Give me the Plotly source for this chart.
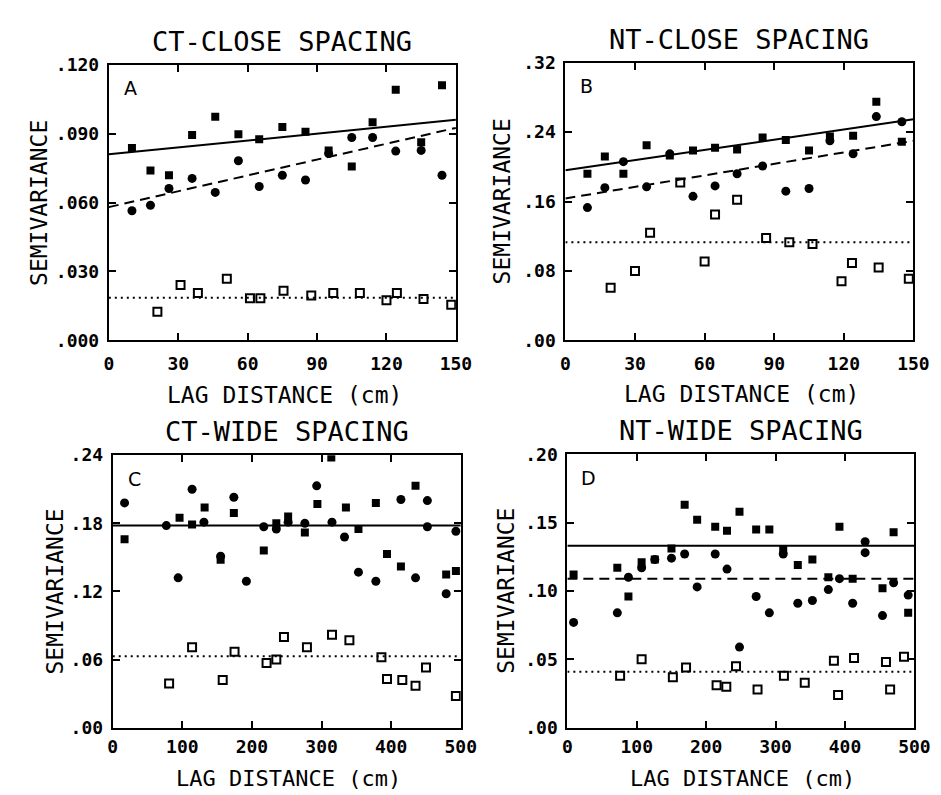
import plotly.graph_objects as go

W, H = 941, 795

# ---------------- data ----------------
titles = ["CT-CLOSE SPACING", "NT-CLOSE SPACING", "CT-WIDE SPACING", "NT-WIDE SPACING"]
letters = ["A", "B", "C", "D"]
x_title = "LAG DISTANCE (cm)"
y_title = "SEMIVARIANCE"

close_xticks = [0, 30, 60, 90, 120, 150]
wide_xticks = [0, 100, 200, 300, 400, 500]
A_yticks = [0.0, 0.03, 0.06, 0.09, 0.12]
A_yticklabels = [".000", ".030", ".060", ".090", ".120"]
B_yticks = [0.0, 0.08, 0.16, 0.24, 0.32]
B_yticklabels = [".00", ".08", ".16", ".24", ".32"]
C_yticks = [0.0, 0.06, 0.12, 0.18, 0.24]
C_yticklabels = [".00", ".06", ".12", ".18", ".24"]
D_yticks = [0.0, 0.05, 0.10, 0.15, 0.20]
D_yticklabels = [".00", ".05", ".10", ".15", ".20"]

# Panel A
A_sq_x = [10, 18, 26, 36, 46, 56, 65, 75, 85, 95, 105, 114, 124, 135, 144]
A_sq_y = [0.0838, 0.074, 0.0719, 0.0894, 0.0974, 0.0897, 0.0876, 0.0929, 0.0908,
          0.0827, 0.0757, 0.095, 0.1091, 0.0862, 0.1111]
A_ci_x = [10, 18, 26, 36, 46, 56, 65, 75, 85, 95, 105, 114, 124, 135, 144]
A_ci_y = [0.0564, 0.0588, 0.0661, 0.0705, 0.0644, 0.0782, 0.067, 0.0719, 0.0698,
          0.0813, 0.0883, 0.0883, 0.0824, 0.0827, 0.0719]
A_op_x = [21, 31, 38.5, 51, 61, 65.5, 75.5, 87.5, 97, 108.5, 120, 124.5, 136, 148]
A_op_y = [0.0124, 0.0241, 0.0206, 0.0268, 0.0183, 0.0183, 0.0216, 0.0195, 0.0206,
          0.0206, 0.0174, 0.0206, 0.018, 0.0155]
A_fit_x = [0, 150]
A_solid = [0.081, 0.096]
A_dash = [0.058, 0.0925]
A_dot = [0.0185, 0.0185]

# Panel B
B_sq_x = [9.5, 17, 25, 35, 45, 55, 64.5, 74, 85, 95, 105, 114, 124, 134, 145]
B_sq_y = [0.192, 0.212, 0.192, 0.225, 0.213, 0.219, 0.222, 0.220, 0.234, 0.231,
          0.219, 0.235, 0.236, 0.275, 0.229]
B_ci_x = [9.5, 17, 25, 35, 45, 55, 64.5, 74, 85, 95, 105, 114, 124, 134, 145]
B_ci_y = [0.153, 0.176, 0.206, 0.177, 0.215, 0.166, 0.178, 0.192, 0.201, 0.172,
          0.175, 0.230, 0.215, 0.258, 0.252]
B_op_x = [19.5, 30, 36.5, 49.5, 60, 64.5, 74, 86.5, 96.5, 106.5, 119, 123.5, 135, 148]
B_op_y = [0.0605, 0.080, 0.124, 0.182, 0.091, 0.145, 0.162, 0.118, 0.113, 0.111,
          0.068, 0.089, 0.084, 0.071]
B_fit_x = [0, 150]
B_solid = [0.196, 0.255]
B_dash = [0.1636, 0.230]
B_dot = [0.113, 0.113]

# Panel C
C_sq_x = [17, 96, 114, 132, 155, 174, 217, 235, 252, 276, 294, 314, 335, 353, 378,
          394, 414, 435, 479, 493]
C_sq_y = [0.166, 0.185, 0.179, 0.194, 0.148, 0.189, 0.156, 0.180, 0.186, 0.172,
          0.197, 0.238, 0.194, 0.175, 0.198, 0.153, 0.142, 0.213, 0.135, 0.138]
C_ci_x = [17, 77, 94, 114, 131, 155, 174, 192, 217, 235, 252, 276, 293, 315, 333,
          353, 378, 414, 435, 452, 452, 479, 493]
C_ci_y = [0.198, 0.178, 0.132, 0.210, 0.181, 0.151, 0.203, 0.129, 0.177, 0.175,
          0.181, 0.180, 0.213, 0.181, 0.168, 0.137, 0.129, 0.201, 0.132, 0.200,
          0.177, 0.118, 0.173]
C_op_x = [81, 114, 158, 175, 221, 235, 246, 279, 315, 340, 386, 394, 416, 435, 450, 493]
C_op_y = [0.039, 0.071, 0.042, 0.067, 0.057, 0.060, 0.080, 0.071, 0.082, 0.077,
          0.062, 0.043, 0.042, 0.037, 0.053, 0.028]
C_fit_x = [0, 500]
C_solid = [0.178, 0.178]
C_dot = [0.063, 0.063]

# Panel D
D_sq_x = [9, 72, 88, 107, 126, 150, 169, 187, 213, 230, 248, 272, 291, 311, 332,
          353, 376, 392, 411, 454, 470, 491]
D_sq_y = [0.112, 0.117, 0.096, 0.121, 0.123, 0.131, 0.163, 0.152, 0.147, 0.144,
          0.158, 0.145, 0.145, 0.130, 0.119, 0.123, 0.110, 0.147, 0.109, 0.102,
          0.143, 0.084]
D_ci_x = [9, 72, 88, 107, 126, 150, 169, 187, 213, 230, 248, 272, 291, 311, 332,
          353, 376, 392, 411, 429, 429, 454, 470, 491]
D_ci_y = [0.077, 0.084, 0.110, 0.117, 0.123, 0.124, 0.127, 0.103, 0.127, 0.116,
          0.059, 0.096, 0.084, 0.127, 0.091, 0.093, 0.101, 0.109, 0.091, 0.136,
          0.128, 0.082, 0.106, 0.097]
D_op_x = [76, 107, 152, 171, 215, 229, 243, 274, 312, 342, 384, 390, 413, 459, 465, 485]
D_op_y = [0.038, 0.050, 0.037, 0.044, 0.031, 0.030, 0.045, 0.028, 0.038, 0.033,
          0.049, 0.024, 0.051, 0.048, 0.028, 0.052]
D_fit_x = [0, 500]
D_solid = [0.133, 0.133]
D_dash = [0.109, 0.109]
D_dot = [0.041, 0.041]

# ---------------- layout geometry (pixels) ----------------
# (left, right, top, bottom) of each frame
boxes = {
    1: (98, 453, 47, 330),
    2: (565, 921, 45, 330),
    3: (102, 458, 448, 728),
    4: (567, 922, 447, 728),
}
xtitle_y = {1: 386, 2: 385, 3: 780, 4: 780}
xtitle_size = {1: 23, 2: 23, 3: 22, 4: 22}
xlabel_standoff = {1: 6, 2: 6, 3: 2, 4: 2}
ytitle_x = {1: 26, 2: 500, 3: 43, 4: 504}

FONT = "DejaVu Sans Mono"
BLACK = "black"

fig = go.Figure()


def add_panel(i, sqx, sqy, cix, ciy, opx, opy, fitx, solid, dash, dot):
    xa = "x" if i == 1 else f"x{i}"
    ya = "y" if i == 1 else f"y{i}"
    if solid is not None:
        fig.add_trace(go.Scatter(x=fitx, y=solid, mode="lines", xaxis=xa, yaxis=ya,
                                 line=dict(color=BLACK, width=2), hoverinfo="skip"))
    if dash is not None:
        fig.add_trace(go.Scatter(x=fitx, y=dash, mode="lines", xaxis=xa, yaxis=ya,
                                 line=dict(color=BLACK, width=2, dash="10px,6px"),
                                 hoverinfo="skip"))
    if dot is not None:
        fig.add_trace(go.Scatter(x=fitx, y=dot, mode="lines", xaxis=xa, yaxis=ya,
                                 line=dict(color=BLACK, width=2, dash="2px,4px"),
                                 hoverinfo="skip"))
    fig.add_trace(go.Scatter(x=sqx, y=sqy, mode="markers", xaxis=xa, yaxis=ya,
                             marker=dict(symbol="square", size=8, color=BLACK)))
    fig.add_trace(go.Scatter(x=cix, y=ciy, mode="markers", xaxis=xa, yaxis=ya,
                             marker=dict(symbol="circle", size=9, color=BLACK)))
    fig.add_trace(go.Scatter(x=opx, y=opy, mode="markers", xaxis=xa, yaxis=ya,
                             marker=dict(symbol="square-open", size=8, color=BLACK,
                                         line=dict(width=2, color=BLACK))))


add_panel(1, A_sq_x, A_sq_y, A_ci_x, A_ci_y, A_op_x, A_op_y, A_fit_x, A_solid, A_dash, A_dot)
add_panel(2, B_sq_x, B_sq_y, B_ci_x, B_ci_y, B_op_x, B_op_y, B_fit_x, B_solid, B_dash, B_dot)
add_panel(3, C_sq_x, C_sq_y, C_ci_x, C_ci_y, C_op_x, C_op_y, C_fit_x, C_solid, None, C_dot)
add_panel(4, D_sq_x, D_sq_y, D_ci_x, D_ci_y, D_op_x, D_op_y, D_fit_x, D_solid, D_dash, D_dot)

xranges = {1: [0, 150], 2: [0, 150], 3: [0, 500], 4: [0, 500]}
xtickv = {1: close_xticks, 2: close_xticks, 3: wide_xticks, 4: wide_xticks}
yranges = {1: [0, 0.12], 2: [0, 0.32], 3: [0, 0.24], 4: [0, 0.20]}
ytickv = {1: A_yticks, 2: B_yticks, 3: C_yticks, 4: D_yticks}
ytickt = {1: A_yticklabels, 2: B_yticklabels, 3: C_yticklabels, 4: D_yticklabels}

tickfont = dict(family=FONT, size=18, color=BLACK, weight="bold")
axis_common = dict(showline=True, linewidth=2, linecolor=BLACK, mirror="ticks",
                   ticks="inside", ticklen=7, tickwidth=2, tickcolor=BLACK,
                   showgrid=False, zeroline=False, tickfont=tickfont,
                   fixedrange=True)

layout = {}
annotations = []
for i, (l, r, t, b) in boxes.items():
    xd = [l / W, r / W]
    yd = [1 - b / H, 1 - t / H]
    xk = "xaxis" if i == 1 else f"xaxis{i}"
    yk = "yaxis" if i == 1 else f"yaxis{i}"
    xa = "x" if i == 1 else f"x{i}"
    ya = "y" if i == 1 else f"y{i}"
    layout[xk] = dict(domain=xd, range=xranges[i], anchor=ya, tickmode="array",
                      tickvals=xtickv[i], ticktext=[str(v) for v in xtickv[i]],
                      ticklabelstandoff=xlabel_standoff[i], **axis_common)
    layout[yk] = dict(domain=yd, range=yranges[i], anchor=xa, tickmode="array",
                      tickvals=ytickv[i], ticktext=ytickt[i],
                      ticklabelstandoff=4, **axis_common)
    cx = (l + r) / 2
    # panel title
    annotations.append(dict(text=titles[i - 1], x=cx / W, y=1 - (t - 24) / H,
                            xref="paper", yref="paper", showarrow=False,
                            xanchor="center", yanchor="middle",
                            font=dict(family=FONT, size=27, color=BLACK)))
    # x-axis title
    annotations.append(dict(text=x_title, x=(cx + 2) / W, y=1 - xtitle_y[i] / H,
                            xref="paper", yref="paper", showarrow=False,
                            xanchor="center", yanchor="middle",
                            font=dict(family=FONT, size=xtitle_size[i], color=BLACK)))
    # panel letter
    annotations.append(dict(text=letters[i - 1], x=(l + 22) / W, y=1 - (t + 24) / H,
                            xref="paper", yref="paper", showarrow=False,
                            xanchor="center", yanchor="middle",
                            font=dict(family="DejaVu Sans", size=19, color=BLACK)))
    # y-axis title
    annotations.append(dict(text=y_title, x=ytitle_x[i] / W, y=1 - ((t + b) / 2) / H,
                            xref="paper", yref="paper", showarrow=False,
                            textangle=-90, xanchor="center", yanchor="middle",
                            font=dict(family=FONT, size=23, color=BLACK)))

fig.update_layout(**layout)
fig.update_layout(width=W, height=H, autosize=False,
                  margin=dict(l=0, r=0, t=0, b=0, pad=0),
                  paper_bgcolor="white", plot_bgcolor="white",
                  showlegend=False, annotations=annotations,
                  font=dict(family=FONT, color=BLACK))

fig.write_html("out.html")
